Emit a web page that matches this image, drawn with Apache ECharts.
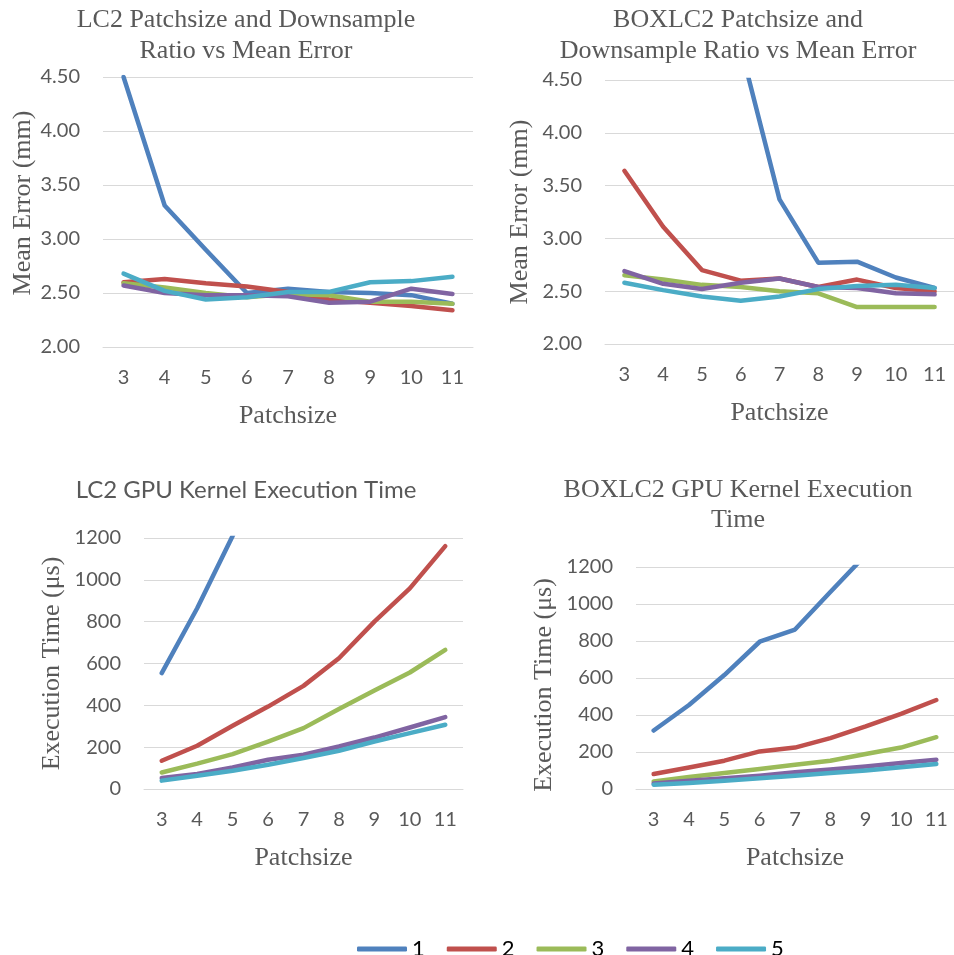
<!DOCTYPE html>
<html>
<head>
<meta charset="utf-8">
<title>LC2 / BOXLC2 patchsize study</title>
<script src="https://cdn.jsdelivr.net/npm/echarts@6/dist/echarts.min.js"></script>
<style>
  html, body { margin: 0; padding: 0; background: #fff; }
  #chart { width: 954px; height: 955px; }
</style>
</head>
<body>
<div id="chart"></div>
<script>
// Patch sizes on the horizontal axis
const patchsizes = ['3', '4', '5', '6', '7', '8', '9', '10', '11'];
// Downsample ratios (series names)
const ratios = ['1', '2', '3', '4', '5'];

// LC2 mean error (mm), one array per downsample ratio
const lc2Err1 = [4.50, 3.31, 2.90, 2.50, 2.54, 2.51, 2.50, 2.48, 2.40];
const lc2Err2 = [2.60, 2.63, 2.59, 2.56, 2.51, 2.44, 2.41, 2.38, 2.34];
const lc2Err3 = [2.59, 2.55, 2.50, 2.46, 2.49, 2.48, 2.42, 2.42, 2.40];
const lc2Err4 = [2.57, 2.50, 2.48, 2.48, 2.47, 2.41, 2.42, 2.54, 2.49];
const lc2Err5 = [2.68, 2.52, 2.44, 2.46, 2.51, 2.51, 2.60, 2.61, 2.65];

// BOXLC2 mean error (mm)
const boxErr1 = [7.20, 6.10, 5.40, 4.81, 3.37, 2.77, 2.78, 2.63, 2.53];
const boxErr2 = [3.64, 3.11, 2.70, 2.60, 2.62, 2.54, 2.61, 2.53, 2.50];
const boxErr3 = [2.65, 2.61, 2.56, 2.54, 2.50, 2.48, 2.35, 2.35, 2.35];
const boxErr4 = [2.69, 2.57, 2.52, 2.58, 2.62, 2.54, 2.53, 2.48, 2.47];
const boxErr5 = [2.58, 2.51, 2.45, 2.41, 2.45, 2.52, 2.55, 2.56, 2.53];

// LC2 GPU kernel execution time (µs)
const lc2Time1 = [554, 864, 1210, 1600, 2050, 2550, 3100, 3700, 4400];
const lc2Time2 = [135, 207, 302, 394, 493, 625, 800, 959, 1161];
const lc2Time3 = [79, 121, 167, 227, 291, 382, 471, 557, 665];
const lc2Time4 = [53, 72, 103, 140, 164, 203, 246, 294, 344];
const lc2Time5 = [40, 63, 87, 116, 148, 183, 227, 267, 307];

// BOXLC2 GPU kernel execution time (µs)
const boxTime1 = [316, 454, 616, 796, 862, 1065, 1265, 1480, 1720];
const boxTime2 = [81, 116, 153, 203, 224, 275, 338, 406, 481];
const boxTime3 = [41, 65, 86, 108, 131, 153, 189, 224, 280];
const boxTime4 = [30, 45, 58, 72, 90, 105, 122, 140, 158];
const boxTime5 = [23, 33, 44, 58, 72, 86, 100, 118, 135];

// Value axis tick settings
const errTicks = { min: 2.0, max: 4.5, interval: 0.5 };
const timeTicks = { min: 0, max: 1200, interval: 200 };

const colors = ['#4F81BD', '#C0504D', '#9BBB59', '#8064A2', '#4BACC6'];
const serif = '"Liberation Serif", "Times New Roman", serif';
const sans = 'Lato, "Open Sans", sans-serif';
const grey = '#595959';
const gridGrey = '#D9D9D9';

// namePad shifts the rotated axis title along the axis
const panels = [
  { grid: { left: 103, top: 77, width: 370, height: 270 }, ticks: errTicks, yName: 'Mean Error (mm)', yGap: 65, namePad: [0, 0, 0, 18], fmt: v => v.toFixed(2),
    data: [lc2Err1, lc2Err2, lc2Err3, lc2Err4, lc2Err5] },
  { grid: { left: 605, top: 80, width: 356, height: 264 }, ticks: errTicks, yName: 'Mean Error (mm)', yGap: 72, namePad: 0, fmt: v => v.toFixed(2),
    data: [boxErr1, boxErr2, boxErr3, boxErr4, boxErr5] },
  { grid: { left: 144, top: 538, width: 319, height: 251 }, ticks: timeTicks, yName: 'Execution Time (μs)', yGap: 79, namePad: 0, fmt: v => String(v),
    data: [lc2Time1, lc2Time2, lc2Time3, lc2Time4, lc2Time5] },
  { grid: { left: 636, top: 567, width: 319, height: 222 }, ticks: timeTicks, yName: 'Execution Time (μs)', yGap: 79, namePad: [0, 14, 0, 0], fmt: v => String(v),
    data: [boxTime1, boxTime2, boxTime3, boxTime4, boxTime5] }
];

const grids = [], xAxes = [], yAxes = [], series = [];
panels.forEach((p, i) => {
  grids.push(Object.assign({ containLabel: false }, p.grid));
  xAxes.push({
    type: 'category', gridIndex: i, data: patchsizes, boundaryGap: true,
    axisTick: { show: false },
    axisLine: { show: true, lineStyle: { color: gridGrey, width: 1 } },
    axisLabel: { color: grey, fontFamily: sans, fontSize: 20, margin: 21, interval: 0 },
    name: 'Patchsize', nameLocation: 'middle', nameGap: 56,
    nameTextStyle: { color: grey, fontFamily: serif, fontSize: 26 }
  });
  yAxes.push({
    type: 'value', gridIndex: i,
    min: p.ticks.min, max: p.ticks.max, interval: p.ticks.interval,
    axisLine: { show: false }, axisTick: { show: false },
    splitLine: { show: true, lineStyle: { color: gridGrey, width: 1 } },
    axisLabel: { color: grey, fontFamily: sans, fontSize: 20, margin: 23, formatter: p.fmt },
    name: p.yName, nameLocation: 'middle', nameGap: p.yGap, nameRotate: 90,
    nameTextStyle: { color: grey, fontFamily: serif, fontSize: 26, padding: p.namePad }
  });
  p.data.forEach((arr, k) => {
    series.push({
      name: ratios[k], type: 'line', xAxisIndex: i, yAxisIndex: i,
      data: arr, symbol: 'none', clip: true,
      itemStyle: { color: colors[k] },
      lineStyle: { color: colors[k], width: 4.5, cap: 'round', join: 'round' },
      emphasis: { disabled: true }
    });
  });
});

// Panel headings
const headings = [
  { text: 'LC2 Patchsize and Downsample\nRatio vs Mean Error', x: 246, y: 36, font: serif, size: 26, lh: 31 },
  { text: 'BOXLC2 Patchsize and\nDownsample Ratio vs Mean Error', x: 738, y: 36, font: serif, size: 26, lh: 31 },
  { text: 'LC2 GPU Kernel Execution Time', x: 246, y: 490, font: sans, size: 24, lh: 30 },
  { text: 'BOXLC2 GPU Kernel Execution\nTime', x: 738, y: 505, font: serif, size: 26, lh: 30 }
];

const chart = echarts.init(document.getElementById('chart'), null, { renderer: 'canvas' });
chart.setOption({
  animation: false,
  backgroundColor: '#ffffff',
  color: colors,
  grid: grids,
  xAxis: xAxes,
  yAxis: yAxes,
  series: series,
  legend: {
    data: ratios, left: 352, top: 932, icon: 'roundRect',
    itemWidth: 50, itemHeight: 5, itemGap: 22,
    textStyle: { color: '#000', fontFamily: sans, fontSize: 22, lineHeight: 24 },
    selectedMode: false
  },
  graphic: headings.map(h => ({
    type: 'text', x: h.x, y: h.y, silent: true,
    style: {
      text: h.text, fill: grey, font: h.size + 'px ' + h.font,
      textAlign: 'center', textVerticalAlign: 'middle', lineHeight: h.lh
    }
  }))
});
</script>
</body>
</html>
